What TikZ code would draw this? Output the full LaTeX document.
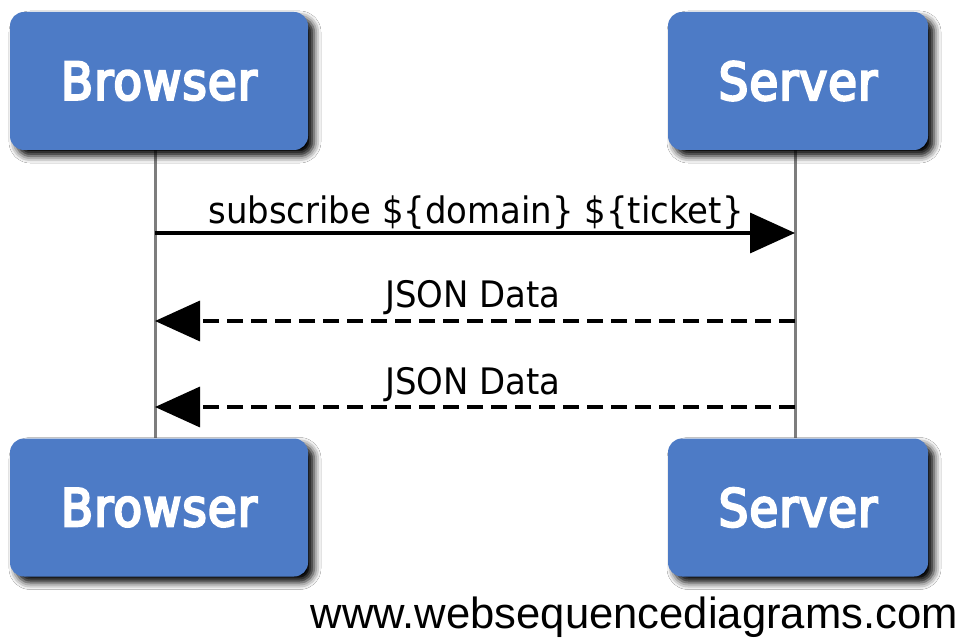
\documentclass[tikz,border=0pt]{standalone}
\usepackage{fontspec}
\setmainfont{Liberation Sans}
\newfontfamily\boxfont[FakeStretch=0.90,FakeBold=4.5,LetterSpace=2]{DejaVu Sans}
\newfontfamily\msgfont[FakeStretch=0.93]{DejaVu Sans}
\usetikzlibrary{arrows.meta,shadows.blur}
\definecolor{actorblue}{RGB}{77,123,198}
\definecolor{lifegray}{RGB}{125,125,125}
\tikzset{
  actor/.style={rounded corners=14pt, fill=actorblue, inner sep=0pt,
    minimum height=138pt, text=white,
    font=\boxfont\fontsize{52}{60}\selectfont,
    blur shadow={shadow xshift=6pt, shadow yshift=-6pt,
      shadow blur radius=7pt, shadow opacity=100}},
  lifeline/.style={draw=lifegray, line width=3pt},
  callmsg/.style={draw=black, line width=3.5pt,
    -{Triangle[length=45pt,width=40pt]}},
  replymsg/.style={draw=black, line width=3.5pt, dash pattern=on 16pt off 8pt,
    -{Triangle[length=45pt,width=40pt]}},
  msglabel/.style={anchor=base, inner sep=0pt,
    font=\msgfont\fontsize{36.5}{42}\selectfont}
}
\begin{document}
\begin{tikzpicture}[x=1pt,y=-1pt]
  \useasboundingbox (0,0) rectangle (964,644);
  \fill[white] (0,0) rectangle (964,644);

  % lifelines, drawn behind the actor boxes
  \coordinate (blt) at (155,150);
  \coordinate (blb) at (155,438);
  \coordinate (slt) at (795,150);
  \coordinate (slb) at (795,438);
  \draw[lifeline] (blt) -- (blb);
  \draw[lifeline] (slt) -- (slb);

  % actors
  \node[actor, minimum width=298pt] (browserTop) at (159,81) {Browser};
  \node[actor, minimum width=260pt] (serverTop) at (798,81) {Server};
  \node[actor, minimum width=298pt] (browserBot) at (159,507.5) {Browser};
  \node[actor, minimum width=260pt] (serverBot) at (798,507.5) {Server};

  % messages
  \coordinate (m1b) at (155,233);
  \coordinate (m1s) at (795,233);
  \coordinate (m2b) at (155,321);
  \coordinate (m2s) at (795,321);
  \coordinate (m3b) at (155,407);
  \coordinate (m3s) at (795,407);

  \draw[callmsg] (m1b) -- (m1s);
  \node[msglabel] (m1label) at (476,224) {subscribe \$\{domain\} \$\{ticket\}};

  \draw[replymsg] (m2s) -- (m2b);
  \node[msglabel] (m2label) at (473,308) {JSON Data};

  \draw[replymsg] (m3s) -- (m3b);
  \node[msglabel] (m3label) at (473,394) {JSON Data};

  % footer
  \node[anchor=base east, inner sep=0pt, font=\fontsize{43.6}{50}\selectfont]
    (footer) at (958,628) {www.websequencediagrams.com};
\end{tikzpicture}
\end{document}
